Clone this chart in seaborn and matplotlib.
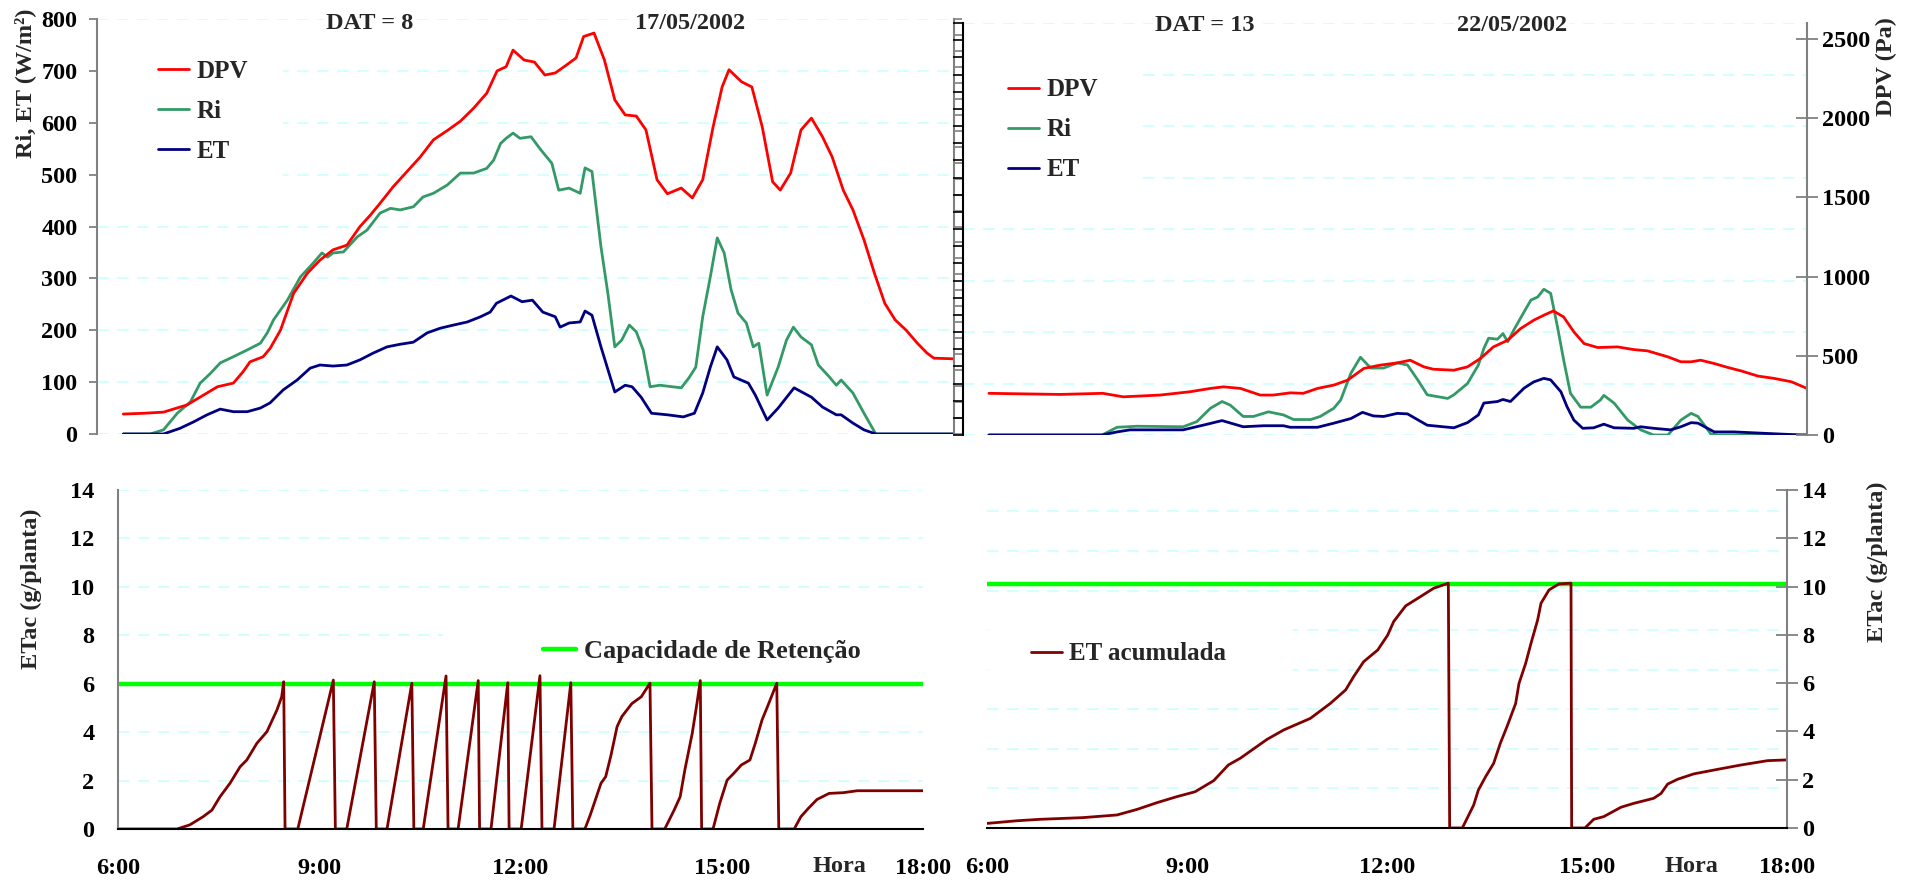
import matplotlib
matplotlib.use("Agg")
import matplotlib.pyplot as plt
import seaborn as sns
from matplotlib.ticker import MultipleLocator, NullFormatter
from matplotlib.patches import Rectangle

# ---------------- 17/05/2002 (DAT = 8) ----------------
dpv1_time = [6.00, 6.30, 6.58, 6.92, 7.36, 7.59, 7.73, 7.83, 8.02, 8.12, 8.27, 8.46, 8.66, 8.84,
             9.03, 9.23, 9.42, 9.57, 9.71, 9.90, 10.10, 10.29, 10.48, 10.68, 10.87, 11.06, 11.25,
             11.40, 11.53, 11.63, 11.79, 11.94, 12.09, 12.24, 12.40, 12.54, 12.65, 12.80, 12.95,
             13.10, 13.25, 13.41, 13.55, 13.71, 13.86, 14.06, 14.22, 14.37, 14.52, 14.65, 14.75,
             14.93, 15.08, 15.23, 15.38, 15.49, 15.64, 15.79, 15.94, 16.10, 16.24, 16.40, 16.54,
             16.70, 16.85, 17.00, 17.15, 17.31, 17.47, 17.61, 17.71, 18.00]
dpv1_pa = [125, 130, 137, 182, 296, 319, 390, 452, 484, 536, 650, 881, 1008, 1089,
           1154, 1183, 1300, 1372, 1446, 1550, 1645, 1736, 1843, 1901, 1960, 2041, 2135,
           2275, 2301, 2405, 2343, 2330, 2249, 2262, 2311, 2356, 2490, 2512, 2343,
           2093, 1999, 1992, 1905, 1593, 1505, 1541, 1479, 1593, 1924, 2174, 2282,
           2207, 2174, 1924, 1580, 1528, 1635, 1905, 1979, 1862, 1736, 1528, 1404,
           1216, 1008, 819, 715, 650, 569, 507, 475, 471]

ri1_time = [6.00, 6.39, 6.58, 6.78, 6.97, 7.11, 7.26, 7.40, 7.59, 7.79, 7.98, 8.08, 8.17, 8.37,
            8.56, 8.74, 8.87, 8.95, 9.03, 9.18, 9.38, 9.52, 9.71, 9.86, 10.00, 10.19, 10.33,
            10.48, 10.68, 10.87, 11.06, 11.25, 11.35, 11.45, 11.53, 11.63, 11.73, 11.89, 12.03,
            12.19, 12.29, 12.44, 12.60, 12.67, 12.77, 12.90, 13.00, 13.10, 13.20, 13.31, 13.41,
            13.51, 13.61, 13.75, 14.06, 14.17, 14.27, 14.37, 14.48, 14.58, 14.68, 14.78, 14.88,
            15.00, 15.10, 15.18, 15.30, 15.46, 15.58, 15.68, 15.79, 15.94, 16.04, 16.20, 16.30,
            16.37, 16.54, 16.70, 16.87, 18.00]
ri1_wm2 = [0, 0, 8, 40, 62, 98, 117, 137, 149, 162, 175, 195, 220, 258,
           303, 329, 349, 341, 349, 351, 380, 393, 426, 435, 432, 438, 457,
           464, 480, 503, 503, 512, 528, 560, 570, 580, 570, 573, 548,
           522, 470, 474, 464, 513, 506, 361, 271, 168, 181, 210, 197,
           162, 91, 94, 89, 108, 129, 226, 303, 378, 349, 278, 233,
           214, 168, 175, 75, 129, 181, 206, 187, 172, 133, 110, 94,
           104, 79, 40, 0, 0]

et1_time = [6.00, 6.58, 6.82, 7.01, 7.21, 7.40, 7.59, 7.79, 7.98, 8.12, 8.31, 8.51, 8.70, 8.84,
            9.03, 9.23, 9.42, 9.61, 9.81, 10.00, 10.19, 10.39, 10.58, 10.77, 10.97, 11.16, 11.30,
            11.39, 11.60, 11.76, 11.91, 12.06, 12.24, 12.31, 12.44, 12.60, 12.67, 12.77, 12.90,
            13.10, 13.25, 13.35, 13.48, 13.63, 13.86, 14.09, 14.25, 14.37, 14.48, 14.58, 14.72,
            14.82, 15.03, 15.13, 15.30, 15.46, 15.69, 15.94, 16.10, 16.30, 16.37, 16.54, 16.70,
            16.87, 18.00]
et1_wm2 = [0, 0, 11, 23, 37, 48, 43, 43, 50, 60, 85, 104, 127, 133,
           131, 133, 143, 156, 168, 173, 177, 195, 204, 210, 216, 226, 235,
           252, 266, 255, 258, 235, 226, 206, 214, 216, 237, 229, 168,
           81, 94, 91, 71, 40, 37, 33, 40, 79, 129, 168, 143,
           110, 98, 75, 27, 50, 89, 71, 52, 37, 37, 21, 8,
           0, 0]

etac1_time = [6.00, 6.88, 7.07, 7.27, 7.40, 7.52, 7.67, 7.82, 7.92, 8.07, 8.22, 8.37, 8.44, 8.47,
              8.49, 8.68, 9.21, 9.24, 9.41, 9.82, 9.85, 10.01, 10.38, 10.41, 10.55, 10.89, 10.92,
              11.07, 11.37, 11.39, 11.56, 11.81, 11.83, 12.01, 12.29, 12.32, 12.50, 12.75, 12.78,
              12.96, 13.04, 13.20, 13.27, 13.35, 13.44, 13.51, 13.66, 13.80, 13.93, 13.96,
              14.15, 14.29, 14.38, 14.45, 14.56, 14.63, 14.68, 14.70,
              14.87, 14.97, 15.08, 15.18, 15.29, 15.42, 15.50, 15.60, 15.70, 15.82, 15.85,
              16.08, 16.18, 16.29, 16.42, 16.60, 16.81, 17.02, 18.00]
etac1_g = [0, 0, 0.17, 0.51, 0.78, 1.33, 1.89, 2.57, 2.85, 3.54, 4.02, 4.92, 5.46, 6.08,
           0, 0, 6.15, 0, 0, 6.08, 0, 0, 6.02, 0, 0, 6.32, 0,
           0, 6.13, 0, 0, 6.04, 0, 0, 6.33, 0, 0, 6.04, 0,
           0, 0.58, 1.89, 2.16, 3.06, 4.23, 4.64, 5.18, 5.46, 6.02, 0,
           0, 0.78, 1.33, 2.44, 3.95, 5.18, 6.13, 0,
           0, 1.06, 2.02, 2.30, 2.64, 2.85, 3.54, 4.50, 5.18, 6.02, 0,
           0, 0.51, 0.85, 1.22, 1.47, 1.50, 1.58, 1.58]
cap1 = 6.0

# ---------------- 22/05/2002 (DAT = 13) ----------------
dpv2_time = [6.00, 7.04, 7.67, 7.97, 8.51, 8.95, 9.25, 9.44, 9.69, 9.98, 10.17, 10.42, 10.61,
             10.82, 11.06, 11.26, 11.50, 11.74, 11.99, 12.18, 12.38, 12.52, 12.82, 13.02, 13.21,
             13.40, 13.61, 13.80, 13.99, 14.14, 14.28, 14.43, 14.58, 14.73, 14.93, 15.22, 15.46,
             15.66, 15.96, 16.15, 16.30, 16.44, 16.64, 16.84, 17.03, 17.28, 17.52, 17.77, 18.00]
dpv2_pa = [263, 256, 263, 241, 252, 273, 294, 304, 294, 252, 252, 266, 263,
           294, 315, 346, 420, 441, 455, 472, 430, 415, 409, 430, 483,
           556, 598, 672, 724, 756, 783, 745, 651, 577, 552, 556, 539,
           531, 493, 462, 462, 472, 451, 426, 405, 372, 357, 336, 294]

ri2_time = [6.00, 7.66, 7.88, 8.17, 8.85, 9.05, 9.25, 9.42, 9.54, 9.73, 9.88, 10.10, 10.32,
            10.47, 10.72, 10.86, 11.06, 11.16, 11.31, 11.45, 11.60, 11.79, 11.99, 12.14, 12.29,
            12.43, 12.73, 12.82, 13.02, 13.18, 13.26, 13.33, 13.46, 13.54, 13.61, 13.70, 13.85,
            13.95, 14.05, 14.14, 14.24, 14.34, 14.43, 14.53, 14.68, 14.83, 14.97, 15.02, 15.17,
            15.37, 15.56, 15.75, 15.96, 16.15, 16.30, 16.40, 16.59, 16.69, 18.00]
ri2_wm2 = [0, 0, 15, 17, 16, 26, 52, 65, 58, 36, 36, 45, 39,
           30, 30, 36, 52, 68, 120, 151, 130, 130, 140, 136, 107,
           78, 71, 78, 100, 136, 168, 188, 186, 197, 181, 204, 239,
           262, 268, 283, 275, 210, 146, 81, 54, 54, 68, 77, 62,
           29, 10, 0, 0, 29, 42, 36, 2, 0, 0]

et2_time = [6.00, 7.66, 7.88, 8.07, 8.85, 9.14, 9.42, 9.73, 10.03, 10.32, 10.42, 10.82, 11.06,
            11.31, 11.48, 11.64, 11.79, 11.99, 12.14, 12.43, 12.82, 13.02, 13.18, 13.26, 13.46,
            13.54, 13.65, 13.85, 13.99, 14.14, 14.24, 14.39, 14.48, 14.58, 14.71, 14.87, 15.02,
            15.17, 15.46, 15.56, 15.75, 16.00, 16.15, 16.30, 16.40, 16.64, 16.93, 17.91, 18.00]
et2_wm2 = [0, 0, 6, 10, 10, 19, 28, 16, 18, 18, 15, 15, 23,
           32, 44, 37, 36, 42, 41, 19, 14, 24, 39, 62, 65,
           69, 65, 91, 103, 110, 107, 84, 55, 29, 13, 14, 21,
           14, 13, 16, 13, 10, 16, 24, 23, 6, 6, 0, 0]

etac2_time = [6.00, 6.45, 6.80, 7.44, 7.95, 8.25, 8.55, 8.85, 9.12, 9.40, 9.62, 9.80, 10.20,
              10.45, 10.85, 11.15, 11.38, 11.50, 11.65, 11.86, 12.01, 12.10, 12.28, 12.50, 12.70,
              12.92, 12.94, 13.13, 13.30, 13.37, 13.48, 13.60, 13.70, 13.80, 13.93, 13.98, 14.08,
              14.16, 14.26, 14.31, 14.43, 14.58, 14.76, 14.77, 14.97, 15.10, 15.25, 15.51, 15.70,
              16.00, 16.11, 16.21, 16.36, 16.60, 16.96, 17.31, 17.71, 18.00]
etac2_g = [0.19, 0.30, 0.36, 0.43, 0.54, 0.77, 1.05, 1.30, 1.50, 1.96, 2.61, 2.89, 3.67,
           4.06, 4.54, 5.16, 5.72, 6.27, 6.89, 7.37, 7.99, 8.55, 9.20, 9.58, 9.93,
           10.14, 0, 0, 0.95, 1.57, 2.13, 2.68, 3.51, 4.20, 5.16, 5.99, 6.82,
           7.65, 8.62, 9.31, 9.86, 10.11, 10.14, 0, 0, 0.36, 0.47, 0.86, 1.02,
           1.23, 1.43, 1.82, 2.02, 2.24, 2.43, 2.61, 2.79, 2.82]
cap2 = 10.1

cap_span = [6.0, 18.0]
hour_ticks = [6, 9, 12, 15, 18]
hour_labels = ["6:00", "9:00", "12:00", "15:00", "18:00"]

# ---------------- styling ----------------
C_DPV, C_RI, C_ET = "#FF0000", "#339966", "#000080"
C_ETAC, C_CAP = "#800000", "#00FF00"
C_GREY = "#808080"
GRID = dict(color="#CCFFFF", linestyle=(0, (7, 5)), linewidth=1.2)
FS = 17.5      # tick labels, titles, axis captions
FS_LEG = 18    # legend entries

sns.set_theme(style="white")
plt.rcParams["font.family"] = ["Liberation Serif", "DejaVu Serif"]
plt.rcParams["font.weight"] = "bold"
plt.rcParams["axes.labelweight"] = "bold"

W, H = 1910, 881
fig = plt.figure(figsize=(W / 100, H / 100), dpi=100)
fig.patch.set_facecolor("white")


def add_axes_px(left, top, right, bottom):
    return fig.add_axes([left / W, 1 - bottom / H, (right - left) / W, (bottom - top) / H])


def hide_spines(ax, keep=()):
    for name, sp in ax.spines.items():
        sp.set_visible(name in keep)


def mask_px(ax, left, top, right, bottom):
    """White block (figure pixels) that hides gridlines under a legend."""
    box = ax.get_position()
    x0 = (left / W - box.x0) / box.width
    x1 = (right / W - box.x0) / box.width
    y0 = ((1 - bottom / H) - box.y0) / box.height
    y1 = ((1 - top / H) - box.y0) / box.height
    ax.add_patch(Rectangle((x0, y0), x1 - x0, y1 - y0, transform=ax.transAxes,
                           facecolor="white", edgecolor="none", zorder=1, clip_on=False))


def legend_px(ax, handles, labels, x, y, size=FS_LEG):
    leg = ax.legend(handles, labels, loc="upper left", bbox_to_anchor=(x / W, 1 - y / H),
                    bbox_transform=fig.transFigure, frameon=True, fancybox=False,
                    facecolor="white", edgecolor="none", framealpha=1.0,
                    prop=dict(family="Liberation Serif", weight="bold", size=size),
                    handlelength=1.25, handletextpad=0.3, labelspacing=0.68,
                    borderpad=0.3, borderaxespad=0.0)
    leg.set_zorder(5)
    return leg


def line(ax, x, y, color, lw, label):
    sns.lineplot(x=x, y=y, ax=ax, color=color, linewidth=lw, label=label,
                 legend=False, sort=False, estimator=None)


def labels_bold(ax, axis, ticks, texts):
    if axis == "x":
        ax.set_xticks(ticks)
        ax.set_xticklabels(texts, fontsize=FS, fontweight="bold")
    else:
        ax.set_yticks(ticks)
        ax.set_yticklabels(texts, fontsize=FS, fontweight="bold")


# ================= top-left: 17/05/2002 =================
ax_tl = add_axes_px(97, 19, 954, 434)
ax_tl2 = ax_tl.twinx()

ax_tl.set_xlim(5.62, 18.0)
ax_tl.set_ylim(0, 800)
ax_tl.set_axisbelow(True)
ax_tl.grid(axis="y", **GRID)
ax_tl.set_xticks([])
hide_spines(ax_tl, keep=("left",))
ax_tl.spines["left"].set_color(C_GREY)
ax_tl.spines["left"].set_linewidth(1.5)
line(ax_tl, ri1_time, ri1_wm2, C_RI, 2.0, "Ri")
line(ax_tl, et1_time, et1_wm2, C_ET, 2.0, "ET")
ax_tl.set_xlabel("")
ax_tl.set_ylabel("")
labels_bold(ax_tl, "y", list(range(0, 801, 100)), [str(v) for v in range(0, 801, 100)])
ax_tl.tick_params(axis="y", direction="out", length=6, width=1.3, colors=C_GREY,
                  labelcolor="black", pad=8)
mask_px(ax_tl, 97, 33, 283, 205)

ax_tl2.set_ylim(0, 2600)
hide_spines(ax_tl2, keep=("right",))
ax_tl2.spines["right"].set_color(C_GREY)
ax_tl2.spines["right"].set_linewidth(1.5)
ax_tl2.yaxis.set_major_locator(MultipleLocator(500))
ax_tl2.yaxis.set_minor_locator(MultipleLocator(100))
ax_tl2.yaxis.set_major_formatter(NullFormatter())
ax_tl2.tick_params(axis="y", which="both", direction="out", length=6, width=1.2, colors=C_GREY)
line(ax_tl2, dpv1_time, dpv1_pa, C_DPV, 2.0, "DPV")
ax_tl2.set_ylabel("")
h1, l1 = ax_tl.get_legend_handles_labels()
h2, l2 = ax_tl2.get_legend_handles_labels()
legend_px(ax_tl2, h2 + h1, l2 + l1, 150, 52)

# ================= top-right: 22/05/2002 =================
ax_tr = add_axes_px(963, 23, 1807, 435)
ax_tr2 = ax_tr.twinx()

ax_tr.set_xlim(5.62, 18.0)
ax_tr.set_ylim(0, 800)
ax_tr.set_axisbelow(True)
ax_tr.yaxis.set_major_locator(MultipleLocator(100))
ax_tr.yaxis.set_minor_locator(MultipleLocator(100 / 3))
ax_tr.yaxis.set_major_formatter(NullFormatter())
ax_tr.grid(axis="y", which="major", **GRID)
ax_tr.set_xticks([])
hide_spines(ax_tr, keep=("left",))
ax_tr.spines["left"].set_color("black")
ax_tr.spines["left"].set_linewidth(1.5)
ax_tr.tick_params(axis="y", which="both", direction="out", length=7, width=1.2, colors="black")
line(ax_tr, ri2_time, ri2_wm2, C_RI, 2.0, "Ri")
line(ax_tr, et2_time, et2_wm2, C_ET, 2.0, "ET")
ax_tr.set_xlabel("")
ax_tr.set_ylabel("")
mask_px(ax_tr, 964, 38, 1137, 205)

ax_tr2.set_ylim(0, 2600)
hide_spines(ax_tr2, keep=("right",))
ax_tr2.spines["right"].set_color(C_GREY)
ax_tr2.spines["right"].set_linewidth(1.5)
line(ax_tr2, dpv2_time, dpv2_pa, C_DPV, 2.0, "DPV")
ax_tr2.set_ylabel("")
labels_bold(ax_tr2, "y", list(range(0, 2501, 500)), [str(v) for v in range(0, 2501, 500)])
ax_tr2.tick_params(axis="y", direction="inout", length=16, width=1.3, colors=C_GREY,
                   labelcolor="black", pad=3)
h1, l1 = ax_tr.get_legend_handles_labels()
h2, l2 = ax_tr2.get_legend_handles_labels()
legend_px(ax_tr2, h2 + h1, l2 + l1, 1000, 71)

# ================= bottom-left: ETac 17/05/2002 =================
ax_bl = add_axes_px(118, 490, 923, 829)
ax_bl.set_xlim(6, 18)
ax_bl.set_ylim(0, 14)
ax_bl.set_axisbelow(True)
ax_bl.grid(axis="y", **GRID)
hide_spines(ax_bl, keep=("left", "bottom"))
ax_bl.spines["left"].set_color(C_GREY)
ax_bl.spines["left"].set_linewidth(1.5)
ax_bl.spines["bottom"].set_color("black")
ax_bl.spines["bottom"].set_linewidth(1.5)
line(ax_bl, cap_span, [cap1, cap1], C_CAP, 3.2, "Capacidade de Retenção")
line(ax_bl, etac1_time, etac1_g, C_ETAC, 2.0, "ET acumulada")
ax_bl.set_xlabel("")
ax_bl.set_ylabel("")
labels_bold(ax_bl, "y", list(range(0, 15, 2)), [str(v) for v in range(0, 15, 2)])
labels_bold(ax_bl, "x", hour_ticks, hour_labels)
ax_bl.tick_params(axis="y", direction="out", length=7, width=1.3, colors=C_GREY,
                  labelcolor="black", pad=10)
ax_bl.tick_params(axis="x", direction="out", length=6, width=1.3, colors="black", pad=15)
mask_px(ax_bl, 443, 612, 923, 664)
hb, lb = ax_bl.get_legend_handles_labels()
legend_px(ax_bl, hb[:1], lb[:1], 535, 632, size=19)

# ================= bottom-right: ETac 22/05/2002 =================
ax_br = add_axes_px(987, 490, 1787, 828)
# light guide lines live on a hidden companion scale behind the data
ax_brg = ax_br.twinx()
ax_brg.set_ylim(0, 8.54)
ax_brg.set_yticks(range(0, 9))
ax_brg.grid(axis="y", **GRID)
ax_brg.tick_params(axis="y", length=0, labelright=False, labelleft=False)
hide_spines(ax_brg)
ax_brg.set_zorder(ax_br.get_zorder() - 1)
ax_br.patch.set_visible(False)

ax_br.set_xlim(6, 18)
ax_br.set_ylim(0, 14)
hide_spines(ax_br, keep=("right", "bottom"))
ax_br.spines["right"].set_color(C_GREY)
ax_br.spines["right"].set_linewidth(1.5)
ax_br.spines["bottom"].set_color("black")
ax_br.spines["bottom"].set_linewidth(1.5)
line(ax_br, cap_span, [cap2, cap2], C_CAP, 3.2, "Capacidade de Retenção")
line(ax_br, etac2_time, etac2_g, C_ETAC, 2.0, "ET acumulada")
ax_br.set_xlabel("")
ax_br.set_ylabel("")
ax_br.yaxis.tick_right()
labels_bold(ax_br, "y", list(range(0, 15, 2)), [str(v) for v in range(0, 15, 2)])
labels_bold(ax_br, "x", hour_ticks, hour_labels)
ax_br.tick_params(axis="y", direction="inout", length=16, width=1.3, colors=C_GREY,
                  labelcolor="black", pad=3, left=False, labelleft=False,
                  right=True, labelright=True)
ax_br.tick_params(axis="x", direction="out", length=6, width=1.3, colors="black", pad=15)
mask_px(ax_br, 988, 610, 1293, 690)
hr, lr = ax_br.get_legend_handles_labels()
legend_px(ax_br, hr[1:], lr[1:], 1023, 635)

# ================= titles and axis captions =================
txt = dict(fontsize=FS, fontweight="bold", family="Liberation Serif")
bg = dict(facecolor="white", edgecolor="none", pad=1.5)
fig.text(370 / W, 1 - 29 / H, "DAT = 8", ha="center", va="baseline", bbox=bg, **txt)
fig.text(690 / W, 1 - 29 / H, "17/05/2002", ha="center", va="baseline", bbox=bg, **txt)
fig.text(1205 / W, 1 - 31 / H, "DAT = 13", ha="center", va="baseline", bbox=bg, **txt)
fig.text(1512 / W, 1 - 31 / H, "22/05/2002", ha="center", va="baseline", bbox=bg, **txt)

fig.text(25 / W, 1 - 83 / H, "Ri, ET (W/m²)", rotation=90, ha="center", va="center", **txt)
fig.text(31 / W, 1 - 589 / H, "ETac (g/planta)", rotation=90, ha="center", va="center", **txt)
fig.text(1886 / W, 1 - 67 / H, "DPV (Pa)", rotation=90, ha="center", va="center", **txt)
fig.text(1877 / W, 1 - 562 / H, "ETac (g/planta)", rotation=90, ha="center", va="center", **txt)
fig.text(839 / W, 1 - 867 / H, "Hora", ha="center", va="center", **txt)
fig.text(1691 / W, 1 - 866 / H, "Hora", ha="center", va="center", **txt)

fig.savefig("out.png", dpi=100, facecolor="white")
